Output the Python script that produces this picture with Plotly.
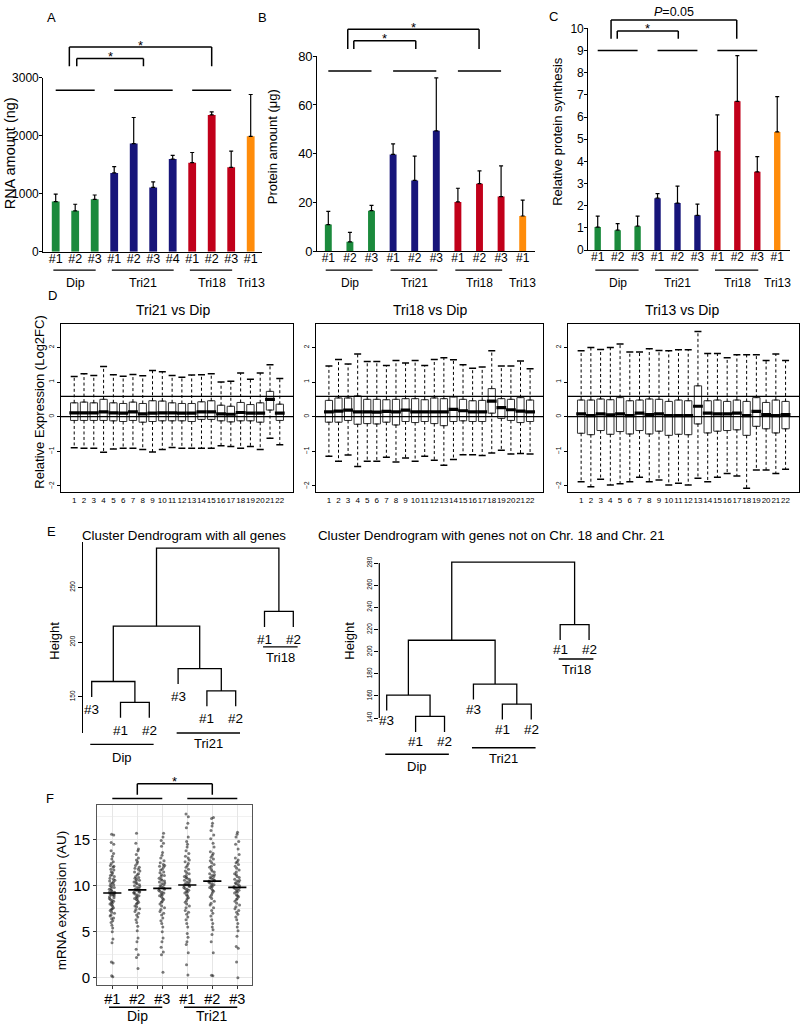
import plotly.graph_objects as go

W, H = 800, 1030
FONT = "Liberation Sans, Arial, Helvetica, sans-serif"

# ---------------- Panel A: RNA amount (ng) ----------------
A_labels = ["#1", "#2", "#3", "#1", "#2", "#3", "#4", "#1", "#2", "#3", "#1"]
A_groups = ["Dip", "Dip", "Dip", "Tri21", "Tri21", "Tri21", "Tri21", "Tri18", "Tri18", "Tri18", "Tri13"]
A_values = [864, 705, 903, 1358, 1864, 1108, 1597, 1534, 2358, 1455, 1989]
A_sd = [130, 113, 74, 108, 449, 97, 62, 176, 51, 278, 721]
A_yticks = [0, 1000, 2000, 3000]

# ---------------- Panel B: Protein amount (ug) ----------------
B_labels = ["#1", "#2", "#3", "#1", "#2", "#3", "#1", "#2", "#3", "#1"]
B_groups = ["Dip", "Dip", "Dip", "Tri21", "Tri21", "Tri21", "Tri18", "Tri18", "Tri18", "Tri13"]
B_values = [10.9, 3.8, 16.6, 39.7, 29.0, 49.4, 20.2, 27.7, 22.4, 14.4]
B_sd = [5.4, 3.9, 2.2, 4.3, 10.0, 21.7, 5.6, 5.2, 12.6, 6.5]
B_yticks = [0, 20, 40, 60, 80]

# ---------------- Panel C: Relative protein synthesis ----------------
C_labels = ["#1", "#2", "#3", "#1", "#2", "#3", "#1", "#2", "#3", "#1"]
C_groups = ["Dip", "Dip", "Dip", "Tri21", "Tri21", "Tri21", "Tri18", "Tri18", "Tri18", "Tri13"]
C_values = [1.04, 0.90, 1.08, 2.34, 2.12, 1.57, 4.47, 6.71, 3.53, 5.33]
C_sd = [0.49, 0.29, 0.45, 0.21, 0.77, 0.50, 1.63, 2.06, 0.69, 1.59]
C_yticks = [0, 1, 2, 3, 4, 5, 6, 7, 8, 9, 10]

# ---------------- Panel D: relative expression per chromosome ----------------
D_chrom = list(range(1, 23))
D_yticks = [-2, -1, 0, 1, 2]
D_trisomy_level = 0.585  # log2(3/2)
D1_title = "Tri21 vs Dip"
D1_q1 = [-0.11, -0.11, -0.11, -0.11, -0.12, -0.14, -0.11, -0.16, -0.14, -0.12, -0.12, -0.12, -0.14, -0.08, -0.08, -0.12, -0.15, -0.12, -0.12, -0.16, 0.19, -0.11]
D1_med = [0.11, 0.11, 0.11, 0.14, 0.11, 0.10, 0.14, 0.08, 0.10, 0.11, 0.11, 0.10, 0.10, 0.14, 0.14, 0.08, 0.07, 0.12, 0.10, 0.10, 0.50, 0.10]
D1_q3 = [0.40, 0.42, 0.40, 0.50, 0.40, 0.38, 0.42, 0.38, 0.46, 0.45, 0.40, 0.38, 0.38, 0.43, 0.46, 0.33, 0.30, 0.41, 0.35, 0.40, 0.73, 0.36]
D1_lo = [-0.90, -0.91, -0.91, -1.03, -0.93, -0.91, -0.91, -0.95, -1.02, -0.95, -0.89, -0.91, -0.91, -0.91, -0.91, -0.84, -0.86, -0.91, -0.86, -0.95, -0.62, -0.81]
D1_hi = [1.16, 1.24, 1.19, 1.45, 1.21, 1.17, 1.22, 1.18, 1.33, 1.30, 1.19, 1.14, 1.20, 1.21, 1.24, 1.00, 1.02, 1.26, 1.08, 1.26, 1.50, 1.10]
D2_title = "Tri18 vs Dip"
D2_q1 = [-0.16, -0.16, -0.11, -0.22, -0.20, -0.21, -0.16, -0.24, -0.14, -0.17, -0.14, -0.20, -0.26, -0.14, -0.12, -0.14, -0.14, 0.10, -0.05, -0.11, -0.17, -0.14]
D2_med = [0.14, 0.16, 0.19, 0.14, 0.14, 0.13, 0.15, 0.14, 0.19, 0.14, 0.14, 0.14, 0.14, 0.21, 0.17, 0.14, 0.14, 0.45, 0.26, 0.20, 0.16, 0.14]
D2_q3 = [0.47, 0.54, 0.54, 0.60, 0.50, 0.50, 0.49, 0.50, 0.52, 0.52, 0.49, 0.54, 0.52, 0.57, 0.50, 0.46, 0.47, 0.81, 0.52, 0.50, 0.55, 0.48]
D2_lo = [-1.14, -1.29, -1.11, -1.44, -1.29, -1.29, -1.17, -1.31, -1.19, -1.29, -1.14, -1.26, -1.40, -1.24, -1.10, -1.10, -1.12, -1.05, -0.97, -1.08, -1.06, -1.08]
D2_hi = [1.46, 1.65, 1.52, 1.81, 1.59, 1.59, 1.48, 1.62, 1.55, 1.62, 1.48, 1.65, 1.70, 1.64, 1.50, 1.40, 1.43, 1.90, 1.46, 1.46, 1.61, 1.38]
D3_title = "Tri13 vs Dip"
D3_q1 = [-0.48, -0.52, -0.40, -0.51, -0.43, -0.50, -0.40, -0.50, -0.42, -0.54, -0.51, -0.52, -0.21, -0.47, -0.42, -0.40, -0.38, -0.54, -0.28, -0.35, -0.47, -0.35]
D3_med = [0.08, 0.03, 0.08, 0.05, 0.08, 0.03, 0.10, 0.06, 0.08, 0.03, 0.03, 0.03, 0.30, 0.10, 0.08, 0.08, 0.10, 0.03, 0.15, 0.06, 0.03, 0.06]
D3_q3 = [0.48, 0.48, 0.51, 0.49, 0.55, 0.46, 0.48, 0.51, 0.50, 0.44, 0.48, 0.46, 0.89, 0.46, 0.48, 0.44, 0.48, 0.44, 0.55, 0.41, 0.48, 0.44]
D3_lo = [-1.88, -2.02, -1.81, -1.97, -1.94, -1.88, -1.75, -1.88, -1.83, -1.97, -1.92, -1.97, -1.78, -1.88, -1.75, -1.64, -1.71, -2.07, -1.54, -1.54, -1.64, -1.52]
D3_hi = [1.90, 2.00, 1.94, 2.00, 2.10, 1.87, 1.87, 1.96, 1.91, 1.90, 1.93, 1.93, 2.46, 1.82, 1.82, 1.70, 1.79, 1.79, 1.79, 1.62, 1.81, 1.62]

# ---------------- Panel E: cluster dendrograms ----------------
E_leaf_labels = ["#3", "#1", "#2", "#3", "#1", "#2", "#1", "#2"]
E_leaf_groups = ["Dip", "Dip", "Dip", "Tri21", "Tri21", "Tri21", "Tri18", "Tri18"]
E_merge = [(-2, -3), (-1, 1), (-5, -6), (-4, 3), (2, 4), (-7, -8), (5, 6)]  # hclust-style merge table
E1_title = "Cluster Dendrogram with all genes"
E1_heights = [144.9, 164.0, 155.4, 175.7, 214.6, 228.0, 285.8]
E1_yticks = [150, 200, 250]
E2_title = "Cluster Dendrogram with genes not on Chr. 18 and Chr. 21"
E2_heights = [141.5, 160.8, 152.6, 170.7, 210.3, 224.5, 280.9]
E2_yticks = [140, 160, 180, 200, 220, 240, 260, 280]

# ---------------- Panel F: mRNA expression ----------------
F_labels = ["#1", "#2", "#3", "#1", "#2", "#3"]
F_groups = ["Dip", "Dip", "Dip", "Tri21", "Tri21", "Tri21"]
F_medians = [9.21, 9.54, 9.71, 10.07, 10.50, 9.82]
F_yticks = [0, 5, 10, 15]
F_dip1 = [0.1, 0.2, 1.6, 1.7, 3.8, 4.2, 5.0, 5.4, 5.7, 6.0, 6.2, 6.4, 6.5, 6.7, 6.8, 7.0, 7.1, 7.3, 7.4, 7.5,
          7.6, 7.8, 7.9, 8.0, 8.1, 8.2, 8.3, 8.4, 8.5, 8.6, 8.7, 8.8, 8.9, 9.0, 9.0, 9.1, 9.1, 9.2, 9.2, 9.3,
          9.3, 9.4, 9.5, 9.6, 9.7, 9.8, 9.9, 10.0, 10.1, 10.2, 10.3, 10.4, 10.5, 10.6, 10.7, 10.8, 11.0, 11.1,
          11.2, 11.4, 11.5, 11.7, 11.8, 12.0, 12.1, 12.2, 12.4, 12.6, 12.9, 13.2, 13.5, 13.8, 14.5, 14.7, 15.5, 15.6]
F_dip2 = [1.0, 2.2, 2.5, 3.1, 3.9, 4.3, 5.1, 5.6, 6.0, 6.3, 6.6, 6.8, 7.0, 7.2, 7.4, 7.5, 7.7, 7.8, 8.0, 8.1,
          8.2, 8.4, 8.5, 8.6, 8.7, 8.8, 8.9, 9.0, 9.1, 9.2, 9.3, 9.3, 9.4, 9.5, 9.5, 9.6, 9.7, 9.8, 9.9, 10.0,
          10.1, 10.2, 10.3, 10.4, 10.5, 10.6, 10.7, 10.8, 10.9, 11.0, 11.2, 11.3, 11.5, 11.6, 11.8, 11.9, 12.0,
          12.2, 12.4, 12.6, 12.8, 13.0, 13.4, 13.8, 14.0, 14.6, 15.7]
F_dip3 = [0.6, 2.5, 2.8, 3.3, 3.9, 4.3, 5.0, 5.5, 5.9, 6.2, 6.5, 6.8, 7.0, 7.2, 7.4, 7.6, 7.8, 8.0, 8.2, 8.3,
          8.5, 8.6, 8.8, 8.9, 9.0, 9.1, 9.2, 9.3, 9.4, 9.5, 9.6, 9.7, 9.7, 9.8, 9.9, 10.0, 10.1, 10.2, 10.3,
          10.4, 10.5, 10.6, 10.7, 10.8, 11.0, 11.1, 11.2, 11.4, 11.5, 11.7, 11.8, 12.0, 12.1, 12.2, 12.3, 12.5,
          12.7, 13.0, 13.3, 13.6, 14.3, 14.6, 14.9, 15.3, 15.7]
F_tri1 = [0.3, 1.4, 2.7, 3.6, 3.9, 4.4, 4.8, 5.5, 5.9, 6.3, 6.6, 6.9, 7.1, 7.3, 7.6, 7.8, 8.0, 8.2, 8.4, 8.6,
          8.7, 8.9, 9.0, 9.2, 9.3, 9.4, 9.5, 9.6, 9.7, 9.8, 9.9, 10.0, 10.0, 10.1, 10.1, 10.2, 10.3, 10.4, 10.5,
          10.6, 10.7, 10.8, 10.9, 11.0, 11.1, 11.3, 11.4, 11.6, 11.8, 12.0, 12.2, 12.4, 12.6, 12.8, 13.0, 13.2,
          13.5, 13.8, 14.2, 14.5, 14.8, 15.3, 16.3, 16.8, 17.5, 17.8]
F_tri2 = [0.2, 0.25, 2.7, 3.9, 4.7, 5.2, 5.5, 5.9, 6.3, 6.7, 7.0, 7.3, 7.6, 7.9, 8.1, 8.3, 8.6, 8.8, 9.0, 9.2,
          9.4, 9.5, 9.7, 9.8, 9.9, 10.0, 10.1, 10.2, 10.3, 10.4, 10.5, 10.5, 10.6, 10.7, 10.8, 10.9, 11.0, 11.1,
          11.2, 11.3, 11.5, 11.6, 11.8, 12.0, 12.1, 12.3, 12.5, 12.7, 12.9, 13.1, 13.3, 13.5, 13.7, 14.2, 14.6,
          15.1, 15.5, 16.0, 16.5, 16.8, 17.3, 17.4]
F_tri3 = [0.0, 1.7, 3.2, 3.4, 4.5, 5.1, 5.5, 5.9, 6.3, 6.6, 6.9, 7.1, 7.3, 7.5, 7.7, 7.9, 8.1, 8.3, 8.5, 8.6,
          8.8, 8.9, 9.0, 9.2, 9.3, 9.4, 9.5, 9.6, 9.7, 9.8, 9.8, 9.9, 10.0, 10.1, 10.2, 10.3, 10.4, 10.5, 10.6,
          10.7, 10.9, 11.0, 11.2, 11.3, 11.5, 11.7, 11.9, 12.1, 12.3, 12.5, 12.6, 12.8, 13.0, 13.4, 14.0, 14.5,
          14.8, 15.3, 15.6, 15.8]
F_series = [F_dip1, F_dip2, F_dip3, F_tri1, F_tri2, F_tri3]

COLORS = {"Dip": "#1b8a3c", "Tri21": "#17157a", "Tri18": "#c1001a", "Tri13": "#ff8c0a"}


# ---------------- helpers (pixel -> paper) ----------------
def dom_x(a, b):
    return [a / W, b / W]


def dom_y(top, bottom):
    return [1 - bottom / H, 1 - top / H]


def py(v):
    return 1 - v / H


def pxx(v):
    return v / W


fig = go.Figure()
layout = dict(width=W, height=H, margin=dict(l=0, r=0, t=0, b=0),
              paper_bgcolor="white", plot_bgcolor="white", showlegend=False,
              font=dict(family=FONT, color="black"))
shapes, annotations = [], []


def line(xref, yref, x0, y0, x1, y1, width=1.3, color="black"):
    shapes.append(dict(type="line", xref=xref, yref=yref, x0=x0, y0=y0, x1=x1, y1=y1,
                       line=dict(color=color, width=width)))


def text(xref, yref, x, y, s, size, **kw):
    annotations.append(dict(xref=xref, yref=yref, x=x, y=y, text=s, showarrow=False,
                            font=dict(size=size, family=FONT, color="black"), **kw))


def group_spans(groups):
    spans = []
    for i, g in enumerate(groups, start=1):
        if spans and spans[-1][0] == g:
            spans[-1][2] = i
        else:
            spans.append([g, i, i])
    return spans


def axkeys(n):
    s = "" if n == 1 else str(n)
    return "x" + s, "y" + s, "xaxis" + s, "yaxis" + s


# ---------------- bar panels A, B, C ----------------
bar_panels = [
    dict(labels=A_labels, groups=A_groups, values=A_values, sd=A_sd, yticks=A_yticks,
         xdom=(43.3, 262), xr=(0.364, 11.58), ydom=(71.7, 248.3), bw=0.4,
         grp_level=2784, brackets=[(1.7, 9.0, 40.7, "*"), (2.08, 5.5, 52.3, "*")], leg_bottom=60,
         ytitle="RNA amount (ng)", ytitle_pos=(9.5, 149), ytitle_size=14.5, tick_size=12,
         lab_size=12.5, letter=("A", 51, 11)),
    dict(labels=B_labels, groups=B_groups, values=B_values, sd=B_sd, yticks=B_yticks,
         xdom=(317.3, 535), xr=(0.49, 10.57), ydom=(50, 247.7), bw=0.32,
         grp_level=74, brackets=[(1.9, 7.98, 22.7, "*"), (2.18, 5.05, 34.3, "*")], leg_bottom=42.7,
         ytitle="Protein amount (\u03bcg)", ytitle_pos=(273.3, 142), ytitle_size=13, tick_size=13,
         lab_size=12, letter=("B", 262, 11)),
    dict(labels=C_labels, groups=C_groups, values=C_values, sd=C_sd, yticks=C_yticks,
         xdom=(588.3, 790), xr=(0.529, 10.64), ydom=(21.7, 246.7), bw=0.32,
         grp_level=9.0, brackets=[(1.67, 7.97, 13.3, "<i>P</i>=0.05"), (1.98, 5.04, 24.3, "*")],
         leg_bottom=32.3, ytitle="Relative protein synthesis", ytitle_pos=(556.7, 126),
         ytitle_size=13, tick_size=12, lab_size=12, letter=("C", 553, 10)),
]

for n, p in enumerate(bar_panels, start=1):
    xa, ya, xk, yk = axkeys(n)
    pos = list(range(1, len(p["values"]) + 1))
    fig.add_trace(go.Bar(
        x=pos, y=p["values"], width=p["bw"],
        marker=dict(color=[COLORS[g] for g in p["groups"]], line=dict(width=0)),
        error_y=dict(type="data", symmetric=False, array=p["sd"], arrayminus=[0] * len(p["sd"]),
                     color="black", thickness=1.2, width=2),
        xaxis=xa, yaxis=ya, hoverinfo="skip"))
    layout[xk] = dict(domain=dom_x(*p["xdom"]), range=list(p["xr"]), anchor=ya,
                      tickvals=pos, ticktext=p["labels"], ticks="", showgrid=False, zeroline=False,
                      showline=True, linecolor="black", linewidth=1.2, tickangle=0,
                      ticklabelstandoff=-5,
                      tickfont=dict(size=p["lab_size"], family=FONT, color="black"))
    layout[yk] = dict(domain=dom_y(*p["ydom"]), range=[p["yticks"][0], p["yticks"][-1]], anchor=xa,
                      tickvals=p["yticks"], ticks="outside", ticklen=3, tickwidth=1, tickcolor="black",
                      ticklabelstandoff=-2,
                      showgrid=False, zeroline=False, showline=True, linecolor="black", linewidth=1.2,
                      tickfont=dict(size=p["tick_size"], family=FONT, color="black"))
    spans = group_spans(p["groups"])
    for g, a, b in spans:
        if b > a:
            line(xa, ya, a, p["grp_level"], b, p["grp_level"], width=1.5)
    for x0, x1, top, lab in p["brackets"]:
        line(xa, "paper", x0, py(top), x1, py(top), width=1.5)
        line(xa, "paper", x0, py(top), x0, py(p["leg_bottom"]), width=1.5)
        line(xa, "paper", x1, py(top), x1, py(p["leg_bottom"]), width=1.5)
        if lab == "*":
            text(xa, "paper", (x0 + x1) / 2, py(top - 2), lab, 13, yanchor="middle")
        else:
            text(xa, "paper", (x0 + x1) / 2, py(top + 0.5), lab, 12.5, yanchor="bottom")
    for g, a, b in spans:
        if b > a:
            line(xa, "paper", a - 0.12, py(267), b + 0.05, py(267), width=1.3)
        text(xa, "paper", (a + b) / 2, py(280), g, p["lab_size"], yanchor="middle")
    tx, ty = p["ytitle_pos"]
    text("paper", "paper", pxx(tx), py(ty), p["ytitle"], p["ytitle_size"], textangle=-90,
         xanchor="center", yanchor="middle")
    l, lx, ly = p["letter"]
    text("paper", "paper", pxx(lx), py(ly), l, 13, xanchor="center", yanchor="middle")

# ---------------- panel D: box plots ----------------
D_sets = [
    (D1_title, D1_q1, D1_med, D1_q3, D1_lo, D1_hi, (60.7, 293.3), 173),
    (D2_title, D2_q1, D2_med, D2_q3, D2_lo, D2_hi, (315.7, 543.3), 430),
    (D3_title, D3_q1, D3_med, D3_q3, D3_lo, D3_hi, (567.7, 799), 682),
]
for k, (title, q1, med, q3, lo, hi, xdom, tcx) in enumerate(D_sets):
    n = 4 + k
    xa, ya, xk, yk = axkeys(n)
    wx, wy = [], []
    for c, a, b, l, h in zip(D_chrom, q1, q3, lo, hi):
        wx += [c, c, None, c, c, None]
        wy += [b, h, None, a, l, None]
    fig.add_trace(go.Scatter(x=wx, y=wy, mode="lines", xaxis=xa, yaxis=ya, hoverinfo="skip",
                             line=dict(color="black", width=1, dash="3px,2.5px")))
    fig.add_trace(go.Scatter(x=D_chrom + D_chrom, y=hi + lo, mode="markers", xaxis=xa, yaxis=ya,
                             hoverinfo="skip",
                             marker=dict(symbol="line-ew", size=5, line=dict(color="black", width=1.5))))
    fig.add_trace(go.Box(x=D_chrom, q1=q1, median=med, q3=q3, lowerfence=q1, upperfence=q3,
                         width=0.75, boxpoints=False, fillcolor="white",
                         line=dict(color="#333333", width=1), xaxis=xa, yaxis=ya, hoverinfo="skip"))
    fig.add_trace(go.Scatter(x=D_chrom, y=med, mode="markers", xaxis=xa, yaxis=ya, hoverinfo="skip",
                             marker=dict(symbol="line-ew", size=7, line=dict(color="black", width=3.2))))
    layout[xk] = dict(domain=dom_x(*xdom), range=[-0.38, 23.38], anchor=ya, tickvals=D_chrom,
                      ticktext=[str(c) for c in D_chrom], ticks="", showgrid=False, zeroline=False,
                      showline=True, mirror=True, linecolor="black", linewidth=1.2, tickangle=0,
                      tickfont=dict(size=8, family=FONT, color="black"))
    layout[yk] = dict(domain=dom_y(321.5, 492), range=[-2.17, 2.68], anchor=xa, tickvals=D_yticks,
                      tickangle=-90, ticks="outside", ticklen=3, tickcolor="black", showgrid=False,
                      zeroline=False, showline=True, mirror=True, linecolor="black", linewidth=1.2,
                      tickfont=dict(size=6.5, family=FONT, color="black"))
    for lvl in (0, D_trisomy_level):
        line(xa + " domain", ya, 0, lvl, 1, lvl, width=1.2)
    text("paper", "paper", pxx(tcx), py(307), title, 14, xanchor="center", yanchor="middle")

text("paper", "paper", pxx(39.5), py(401), "Relative Expression (Log2FC)", 13, textangle=-90,
     xanchor="center", yanchor="middle")
text("paper", "paper", pxx(52), py(293), "D", 13, xanchor="center", yanchor="middle")

# ---------------- panel E: dendrograms ----------------
E_sets = [
    dict(n=7, title=E1_title, heights=E1_heights, yticks=E1_yticks, xdom=(83, 310),
         xr=(0.698, 8.58), ydom=(543, 737), yr=(116.7, 291.4), fullline=True, lab_shift=-3,
         title_x=184, height_x=55, under={"Dip": (748.3, 761.7), "Tri21": (736.7, 747), "Tri18": (649.3, 660)}),
    dict(n=8, title=E2_title, heights=E2_heights, yticks=E2_yticks, xdom=(379.3, 620),
         xr=(0.744, 9.07), ydom=(556, 745), yr=(119.2, 287.4), fullline=False, lab_shift=0,
         title_x=491, height_x=350, under={"Dip": (758.3, 771), "Tri21": (751.7, 763), "Tri18": (661.7, 672)}),
]
for e in E_sets:
    xa, ya, xk, yk = axkeys(e["n"])
    hts = e["heights"]
    hang = 0.1 * (max(hts) - min(hts))
    node_x, node_h, leaf_bottom = {}, {}, {}
    xs, ys = [], []
    for k, ((a, b), h) in enumerate(zip(E_merge, hts), start=1):
        pts = []
        for c in (a, b):
            if c < 0:
                cx, ch = -c, h - hang
                leaf_bottom[-c] = ch
            else:
                cx, ch = node_x[c], node_h[c]
            pts.append((cx, ch))
        (x1, h1), (x2, h2) = pts
        xs += [x1, x1, x2, x2, None]
        ys += [h1, h, h, h2, None]
        node_x[k], node_h[k] = (x1 + x2) / 2, h
    fig.add_trace(go.Scatter(x=xs, y=ys, mode="lines", xaxis=xa, yaxis=ya, hoverinfo="skip",
                             line=dict(color="black", width=1.3)))
    for i, lab in enumerate(E_leaf_labels, start=1):
        text(xa, ya, i, leaf_bottom[i], lab, 13.5, yanchor="top", yshift=e["lab_shift"])
    for g, a, b in group_spans(E_leaf_groups):
        uy, ly = e["under"][g]
        line(xa, "paper", a - 0.05, py(uy), b + 0.15, py(uy), width=1.4)
        text(xa, "paper", (a + b) / 2 + 0.05, py(ly), g, 13, yanchor="middle")
    layout[xk] = dict(domain=dom_x(*e["xdom"]), range=list(e["xr"]), anchor=ya, visible=False)
    layout[yk] = dict(domain=dom_y(*e["ydom"]), range=list(e["yr"]), anchor=xa, tickvals=e["yticks"],
                      tickangle=-90, ticks="outside", ticklen=4, tickcolor="black", showgrid=False,
                      zeroline=False, showline=e["fullline"], linecolor="black", linewidth=1.2,
                      tickfont=dict(size=6.5, family=FONT, color="black"))
    if not e["fullline"]:
        line(xa + " domain", ya, 0, e["yticks"][0], 0, e["yticks"][-1], width=1.2)
    text("paper", "paper", pxx(e["title_x"]), py(536), e["title"], 13.3, xanchor="center", yanchor="middle")
    text("paper", "paper", pxx(e["height_x"]), py(643), "Height", 13, textangle=-90,
         xanchor="center", yanchor="middle")
text("paper", "paper", pxx(51), py(532), "E", 13, xanchor="center", yanchor="middle")

# ---------------- panel F: jittered mRNA expression ----------------
xa, ya, xk, yk = axkeys(9)
F_pos = list(range(1, len(F_series) + 1))
for p_, vals in zip(F_pos, F_series):
    fig.add_trace(go.Box(x=[p_] * len(vals), y=vals, boxpoints="all", jitter=1, pointpos=0, width=0.3,
                         fillcolor="rgba(0,0,0,0)", line=dict(width=0, color="rgba(0,0,0,0)"),
                         marker=dict(size=3, color="rgba(35,35,35,0.6)"),
                         xaxis=xa, yaxis=ya, hoverinfo="skip"))
fig.add_trace(go.Scatter(x=F_pos, y=F_medians, mode="markers", xaxis=xa, yaxis=ya, hoverinfo="skip",
                         marker=dict(symbol="line-ew", size=13, line=dict(color="black", width=1.6))))
layout[xk] = dict(domain=dom_x(97.3, 252.3), range=[0.4, 6.6], anchor=ya, tickvals=F_pos,
                  ticktext=F_labels, ticks="outside", ticklen=3, tickcolor="#333333", tickangle=0,
                  ticklabelstandoff=-2,
                  showgrid=True, gridcolor="#e6e6e6", gridwidth=1, zeroline=False,
                  showline=True, mirror=True, linecolor="#555555", linewidth=1.2,
                  tickfont=dict(size=14.5, family=FONT, color="black"))
layout[yk] = dict(domain=dom_y(810, 992.3), range=[-0.78, 18.75], anchor=xa, tickvals=F_yticks,
                  ticks="outside", ticklen=3, tickcolor="#333333", showgrid=True, gridcolor="#e6e6e6",
                  gridwidth=1, zeroline=False, showline=True, mirror=True, linecolor="#555555",
                  linewidth=1.2, tickfont=dict(size=15, family=FONT, color="black"),
                  minor=dict(tickvals=[2.5, 7.5, 12.5, 17.5], showgrid=True, gridcolor="#f1f1f1",
                             ticks=""))
F_spans = group_spans(F_groups)
for g, a, b in F_spans:
    line(xa, "paper", a, py(803.3), b, py(803.3), width=1.5)
    line(xa, "paper", a - 0.13, py(1015), b, py(1015), width=1.4)
    text(xa, "paper", (a + b) / 2, py(1023.5), g, 14, yanchor="middle")
F_bracket = (F_spans[0][1] + 1, F_spans[1][1] + 1, 788.3, 799.3)
bx0, bx1, btop, bbot = F_bracket
line(xa, "paper", bx0, py(btop), bx1, py(btop), width=1.5)
line(xa, "paper", bx0, py(btop), bx0, py(bbot), width=1.5)
line(xa, "paper", bx1, py(btop), bx1, py(bbot), width=1.5)
text(xa, "paper", (bx0 + bx1) / 2, py(btop - 2), "*", 13, yanchor="middle")
text("paper", "paper", pxx(61.7), py(906.7), "mRNA expression (AU)", 13.5, textangle=-90,
     xanchor="center", yanchor="middle")
text("paper", "paper", pxx(50), py(803), "F", 13, xanchor="center", yanchor="middle")

layout["shapes"] = shapes
layout["annotations"] = annotations
fig.update_layout(**layout)
fig.write_html("out.html", config={"displayModeBar": False},
               post_script="document.body.style.margin='0px';document.body.style.overflow='hidden';")
